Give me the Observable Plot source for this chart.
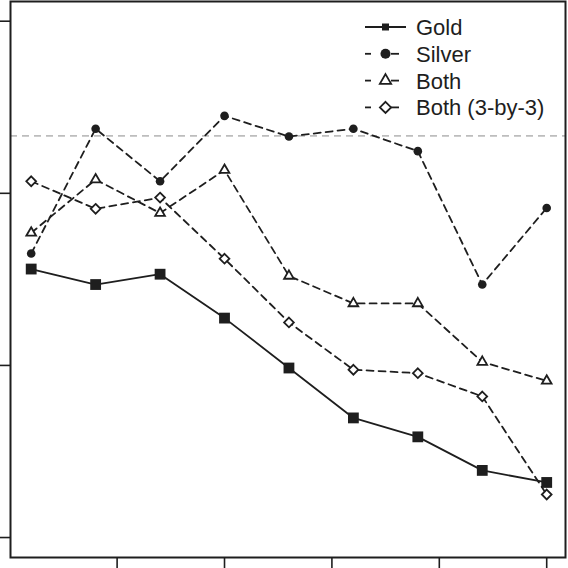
<!DOCTYPE html>
<html>
<head>
<meta charset="utf-8">
<script src="https://cdn.jsdelivr.net/npm/d3@7"></script>
<script src="https://cdn.jsdelivr.net/npm/@observablehq/plot@0.6"></script>
<style>
  html, body { margin: 0; padding: 0; background: #fff; }
  svg { display: block; }
</style>
</head>
<body>
<script>
// x positions of the nine measurements and axis ticks
const xs = [0.2, 0.8, 1.4, 2.0, 2.6, 3.2, 3.8, 4.4, 5.0];
const xTicks = [1, 2, 3, 4, 5];
const yTicks = [0.2, 0.4, 0.6, 0.8];
const refLevel = [2 / 3];

// series values
const gold   = [0.512, 0.494, 0.506, 0.455, 0.397, 0.339, 0.317, 0.278, 0.264];
const silver = [0.530, 0.675, 0.614, 0.690, 0.666, 0.675, 0.649, 0.494, 0.583];
const both   = [0.554, 0.616, 0.577, 0.627, 0.504, 0.472, 0.472, 0.404, 0.382];
const both3  = [0.614, 0.582, 0.595, 0.524, 0.450, 0.395, 0.391, 0.364, 0.250];

const seriesNames = ["Gold", "Silver", "Both", "Both (3-by-3)"];

const ink = "#1e1e1e";
const dash = "7,5";

function rows(vals) { return xs.map((x, i) => ({x, y: vals[i]})); }

const goldRows = rows(gold), silverRows = rows(silver), bothRows = rows(both), both3Rows = rows(both3);

const chart = Plot.plot({
  width: 568,
  height: 568,
  marginLeft: 10,
  marginRight: 3,
  marginTop: 1,
  marginBottom: 11,
  x: {domain: [0.0073, 5.175]},
  y: {domain: [0.1768, 0.8229]},
  style: {background: "#fff", color: ink},
  marks: [
    Plot.ruleY(refLevel, {stroke: "#bdbdbd", strokeWidth: 1.7, strokeDasharray: dash}),
    Plot.line(both3Rows, {x: "x", y: "y", stroke: ink, strokeWidth: 1.8, strokeDasharray: dash}),
    Plot.line(bothRows, {x: "x", y: "y", stroke: ink, strokeWidth: 1.8, strokeDasharray: dash}),
    Plot.line(silverRows, {x: "x", y: "y", stroke: ink, strokeWidth: 1.8, strokeDasharray: dash}),
    Plot.line(goldRows, {x: "x", y: "y", stroke: ink, strokeWidth: 1.8}),
    Plot.dot(both3Rows, {x: "x", y: "y", symbol: "diamond2", r: 4.4, fill: "#fff", stroke: ink, strokeWidth: 1.8}),
    Plot.dot(bothRows, {x: "x", y: "y", symbol: "triangle", r: 3.6, fill: "#fff", stroke: ink, strokeWidth: 1.8}),
    Plot.dot(silverRows, {x: "x", y: "y", symbol: "circle", r: 4.3, fill: ink, stroke: "none"}),
    Plot.dot(goldRows, {x: "x", y: "y", symbol: "square", r: 6.1, fill: ink, stroke: "none"}),
    Plot.axisX(xTicks, {anchor: "bottom", tickSize: 11, tickFormat: () => "", label: null, stroke: ink, strokeWidth: 1.6}),
    Plot.axisY(yTicks, {anchor: "left", tickSize: 10, tickFormat: () => "", label: null, stroke: ink, strokeWidth: 1.6}),
    Plot.frame({stroke: ink, strokeWidth: 2})
  ]
});
document.body.appendChild(chart);

// legend inside the plot area (top right), no box
const svg = d3.select(chart);
const lg = svg.append("g").attr("transform", "translate(365,27)");
const legendSpec = [
  {name: seriesNames[0], type: d3.symbolSquare, size: 49, fill: ink, stroke: "none", dashed: false},
  {name: seriesNames[1], type: d3.symbolCircle, size: 80, fill: ink, stroke: "none", dashed: true},
  {name: seriesNames[2], type: d3.symbolTriangle, size: 55, fill: "#fff", stroke: ink, dashed: true},
  {name: seriesNames[3], type: d3.symbolDiamond2, size: 80, fill: "#fff", stroke: ink, dashed: true}
];
legendSpec.forEach((d, i) => {
  const g = lg.append("g").attr("transform", `translate(0,${i * 26.8})`);
  if (d.dashed) {
    g.append("line").attr("x1", 0).attr("x2", 6).attr("y1", 0).attr("y2", 0)
      .attr("stroke", ink).attr("stroke-width", 1.8);
    g.append("line").attr("x1", 26).attr("x2", 34).attr("y1", 0).attr("y2", 0)
      .attr("stroke", ink).attr("stroke-width", 1.8);
  } else {
    g.append("line").attr("x1", 0).attr("x2", 41).attr("y1", 0).attr("y2", 0)
      .attr("stroke", ink).attr("stroke-width", 1.8);
  }
  g.append("path")
    .attr("transform", "translate(20.5,0)")
    .attr("d", d3.symbol(d.type, d.size)())
    .attr("fill", d.fill)
    .attr("stroke", d.stroke)
    .attr("stroke-width", 1.8);
  g.append("text")
    .attr("x", 51)
    .attr("y", 0)
    .attr("dy", "0.36em")
    .attr("text-anchor", "start")
    .attr("font-family", "'Liberation Sans', Arial, Helvetica, sans-serif")
    .attr("font-size", 22)
    .attr("fill", ink)
    .text(d.name);
});
</script>
</body>
</html>
